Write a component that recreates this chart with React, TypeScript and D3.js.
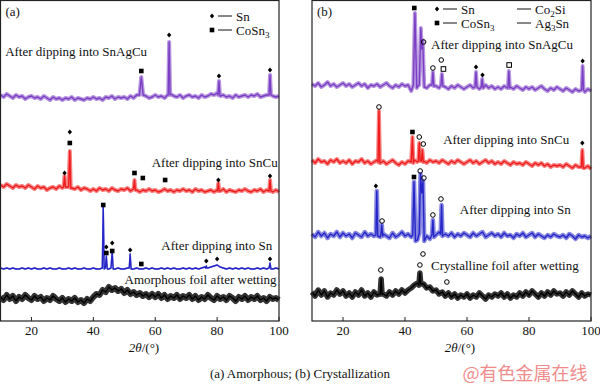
import React from "react";
import * as d3 from "d3";

// 2θ grid for the baseline readings (1° steps)
const angles = d3.range(10, 101);

type Pt = [number, number];
type Mark = [number, number, string]; // 2θ, intensity, d=diamond s=square o=circle q=open square

// ---- panel (a): amorphous foil ----
const aPurple = [
  226, 224, 227, 225, 223, 226, 224, 225, 222, 224,
  225, 223, 224, 222, 225, 223, 221, 224, 222, 223,
  221, 223, 222, 224, 221, 223, 222, 221, 223, 222,
  224, 222, 223, 221, 224, 223, 225, 222, 224, 223,
  224, 222, 225, 223, 226, 228, 224, 225, 223, 224,
  226, 224, 225, 223, 226, 227, 225, 224, 226, 223,
  225, 226, 224, 225, 223, 226, 224, 225, 227, 226,
  228, 225, 226, 224, 225, 223, 226, 224, 225, 226,
  224, 226, 225, 227, 224, 225, 226, 228, 225, 224,
  225,
];
const aPurplePeaks: Pt[][] = [
  [[54.9, 226], [55.5, 244], [56.1, 226]],
  [[64.2, 226], [64.5, 279], [64.8, 226]],
  [[80.3, 226], [80.6, 240], [80.9, 226]],
  [[96.8, 226], [97.1, 246], [97.4, 226]],
];
const aPurpleMarks: Mark[] = [
  [55.5, 250, "s"], [64.5, 286, "d"], [80.6, 245, "d"], [97.1, 251, "d"],
];

const aRed = [
  136, 134, 137, 135, 133, 136, 134, 135, 133, 136,
  134, 132, 135, 133, 134, 131, 133, 134, 132, 135,
  133, 134, 131, 133, 132, 134, 131, 133, 132, 130,
  132, 130, 133, 131, 132, 130, 133, 131, 130, 132,
  131, 133, 130, 132, 131, 129, 131, 130, 132, 130,
  131, 129, 130, 132, 130, 131, 129, 131, 130, 132,
  130, 131, 129, 132, 130, 131, 129, 130, 131, 129,
  131, 130, 132, 129, 131, 130, 129, 131, 130, 132,
  130, 129, 131, 130, 132, 129, 131, 130, 129, 131,
  129,
];
const aRedPeaks: Pt[][] = [
  [[30.4, 134], [30.7, 145], [31.0, 134]],
  [[32.0, 134], [32.4, 170], [32.7, 133]],
  [[53.0, 132], [53.3, 141], [53.6, 131]],
  [[80.1, 130], [80.4, 138], [80.7, 130]],
  [[96.8, 130], [97.1, 141], [97.4, 130]],
];
const aRedMarks: Mark[] = [
  [30.7, 148, "d"], [32.4, 178, "s"], [32.4, 189, "d"], [53.3, 148, "s"],
  [56.0, 143, "s"], [63.2, 141, "s"], [80.4, 141, "d"], [97.1, 145, "d"],
];

const aBlue = [
  53, 52, 53, 52, 53, 52, 52, 53, 52, 53,
  52, 53, 52, 52, 53, 52, 53, 52, 52, 53,
  52, 52, 53, 52, 53, 52, 52, 53, 52, 52,
  53, 52, 52, 53, 53, 52, 53, 52, 53, 52,
  52, 53, 52, 52, 53, 52, 52, 53, 52, 53,
  52, 52, 53, 52, 53, 52, 53, 52, 52, 53,
  52, 53, 52, 53, 52, 53, 54, 53, 54, 55,
  56, 54, 53, 52, 53, 52, 53, 52, 53, 52,
  53, 52, 52, 53, 52, 53, 52, 54, 52, 53,
  52,
];
const aBluePeaks: Pt[][] = [
  [[42.9, 53], [43.2, 114], [43.5, 52]],
  [[43.9, 53], [44.2, 65], [44.5, 52]],
  [[45.7, 53], [46.1, 69], [46.4, 52]],
  [[51.6, 53], [51.9, 67], [52.2, 52]],
  [[76.3, 53], [76.5, 55], [76.7, 53]],
  [[96.8, 53], [97.1, 58], [97.4, 52]],
];
const aBlueMarks: Mark[] = [
  [43.2, 116, "s"], [44.2, 74, "d"], [44.2, 68, "s"], [46.1, 78, "d"],
  [46.1, 70, "s"], [51.9, 71, "d"], [55.5, 57, "s"], [76.5, 60, "d"],
  [80.0, 62, "d"], [97.1, 62, "d"],
];

const aBlack = [
  24, 21, 26, 22, 25, 20, 24, 22, 26, 23,
  21, 25, 22, 24, 20, 23, 21, 25, 22, 20,
  23, 19, 22, 20, 23, 19, 21, 18, 22, 20,
  24, 27, 26, 31, 29, 34, 31, 33, 30, 32,
  28, 31, 27, 29, 26, 28, 25, 27, 24, 27,
  24, 27, 23, 26, 22, 25, 23, 26, 22, 25,
  23, 26, 22, 25, 21, 24, 22, 26, 23, 21,
  25, 22, 24, 21, 25, 23, 20, 24, 22, 25,
  21, 24, 22, 25, 21, 23, 20, 24, 22, 23,
  21,
];

// ---- panel (b): crystallized foil ----
const bPurple = [
  237, 235, 238, 234, 236, 239, 235, 237, 234, 236,
  238, 235, 237, 234, 236, 238, 235, 237, 233, 236,
  235, 237, 234, 236, 238, 235, 233, 236, 234, 237,
  235, 236, 230, 236, 238, 237, 235, 233, 236, 234,
  235, 233, 236, 234, 232, 235, 233, 236, 234, 232,
  234, 236, 233, 235, 232, 234, 236, 233, 235, 232,
  234, 232, 235, 233, 234, 232, 235, 233, 231, 234,
  232, 234, 231, 233, 235, 232, 230, 233, 231, 234,
  232, 230, 233, 231, 229, 232, 230, 231, 229, 232,
  230,
];
const bPurplePeaks: Pt[][] = [
  [[42.7, 236], [43.2, 308], [43.8, 233], [44.2, 235]],
  [[44.6, 236], [45.1, 293], [45.4, 272], [45.7, 281], [46.2, 234]],
  [[48.7, 236], [49.0, 249], [49.3, 235]],
  [[51.6, 236], [51.9, 247], [52.2, 235]],
  [[62.6, 234], [62.9, 249], [63.2, 234]],
  [[64.6, 234], [64.9, 242], [65.2, 233]],
  [[73.2, 233], [73.5, 250], [73.8, 233]],
  [[97.0, 231], [97.3, 255], [97.6, 231]],
];
const bPurpleMarks: Mark[] = [
  [43.0, 313, "s"], [46.0, 279, "o"], [49.0, 253, "o"], [51.7, 261, "o"],
  [52.4, 252, "q"], [62.9, 254, "d"], [65.0, 246, "d"], [73.6, 256, "q"],
  [97.3, 260, "d"],
];

const bRed = [
  161, 158, 162, 159, 160, 157, 161, 159, 162, 158,
  160, 158, 161, 157, 160, 159, 162, 158, 160, 157,
  159, 161, 158, 160, 157, 159, 161, 158, 156, 159,
  157, 160, 158, 161, 159, 162, 160, 158, 161, 159,
  160, 158, 161, 159, 157, 160, 158, 161, 159, 157,
  159, 161, 158, 160, 157, 159, 161, 158, 160, 157,
  159, 157, 160, 158, 156, 159, 157, 158, 156, 159,
  157, 155, 158, 156, 158, 155, 157, 154, 156, 155,
  156, 154, 157, 155, 153, 156, 154, 155, 153, 155,
  152,
];
const bRedPeaks: Pt[][] = [
  [[31.3, 159], [31.6, 210], [31.9, 158]],
  [[42.0, 159], [42.4, 184], [42.7, 158]],
  [[44.3, 160], [44.6, 178], [44.9, 160]],
  [[45.3, 160], [45.6, 171], [45.9, 159]],
  [[96.9, 154], [97.2, 171], [97.5, 153]],
];
const bRedMarks: Mark[] = [
  [31.6, 214, "o"], [42.4, 189, "s"], [44.6, 184, "o"], [45.9, 177, "o"],
  [97.2, 178, "d"],
];

const bBlue = [
  87, 84, 89, 85, 88, 83, 87, 85, 89, 84,
  88, 85, 87, 83, 88, 86, 84, 89, 85, 87,
  85, 88, 84, 87, 85, 83, 88, 84, 86, 89,
  85, 87, 84, 82, 86, 84, 83, 85, 82, 88,
  86, 89, 84, 87, 85, 88, 84, 87, 85, 88,
  86, 84, 88, 85, 87, 89, 84, 86, 88, 85,
  87, 84, 88, 85, 86, 83, 87, 85, 88, 84,
  86, 88, 84, 87, 85, 83, 86, 84, 87, 85,
  84, 86, 83, 87, 85, 82, 86, 84, 85, 83,
  85,
];
const bBluePeaks: Pt[][] = [
  [[30.6, 86], [30.9, 130], [31.2, 85]],
  [[32.2, 86], [32.5, 96], [32.8, 85]],
  [[42.5, 86], [42.9, 139], [43.4, 80], [44.0, 81]],
  [[44.6, 88], [45.0, 147], [45.4, 128], [45.8, 140], [46.2, 80]],
  [[48.7, 86], [49.0, 101], [49.3, 84]],
  [[51.5, 87], [51.8, 116], [52.1, 85]],
];
const bBlueMarks: Mark[] = [
  [30.6, 135, "d"], [32.6, 100, "o"], [42.9, 144, "s"], [44.9, 150, "o"],
  [46.1, 143, "o"], [49.0, 106, "o"], [51.6, 122, "o"],
];

const bBlack = [
  29, 25, 31, 26, 30, 24, 28, 26, 31, 27,
  30, 25, 28, 24, 29, 26, 31, 25, 28, 24,
  29, 26, 32, 27, 25, 29, 26, 30, 27, 31,
  28, 31, 33, 36, 38, 35, 37, 33, 34, 30,
  31, 27, 29, 25, 28, 24, 27, 23, 26, 24,
  27, 23, 26, 24, 28, 25, 22, 26, 24, 27,
  25, 28, 24, 27, 23, 26, 24, 28, 25, 29,
  26, 30, 27, 24, 28, 25, 29, 26, 30, 27,
  28, 25, 29, 26, 30, 27, 24, 28, 25, 27,
  26,
];
const bBlackPeaks: Pt[][] = [
  [[32.0, 27], [32.3, 42], [32.6, 27]],
  [[44.5, 36], [44.8, 48], [45.1, 37]],
];
const bBlackMarks: Mark[] = [
  [32.2, 51, "o"], [44.8, 56, "o"], [45.8, 67, "o"], [53.5, 39, "o"],
];

const xTicks = [20, 40, 60, 80, 100];

const W = 600;
const H = 389;
const plotTop = 0.5;
const plotBottom = 321;
const y = d3.scaleLinear().domain([0, 321]).range([plotBottom, 0]);

const serif = "'Liberation Serif', 'Times New Roman', serif";

const buildTrace = (base: number[], peaks: Pt[][]): Pt[] => {
  const spans = peaks.map((p) => [p[0][0], p[p.length - 1][0]]);
  const pts: Pt[] = angles
    .map((a, i) => [a, base[i]] as Pt)
    .filter(([a]) => !spans.some(([s, e]) => a >= s && a <= e));
  peaks.forEach((p) => pts.push(...p));
  return pts.sort((p, q) => p[0] - q[0]);
};

const Marker = ({ cx, cy, kind }: { cx: number; cy: number; kind: string }) => {
  if (kind === "d")
    return <path d={`M${cx},${cy - 2.6}L${cx + 2.2},${cy}L${cx},${cy + 2.6}L${cx - 2.2},${cy}Z`} fill="#000" />;
  if (kind === "s") return <rect x={cx - 2.3} y={cy - 2.3} width={4.6} height={4.6} fill="#000" />;
  if (kind === "o") return <circle cx={cx} cy={cy} r={2.3} fill="none" stroke="#000" strokeWidth={1} />;
  return <rect x={cx - 2.3} y={cy - 2.3} width={4.6} height={4.6} fill="none" stroke="#000" strokeWidth={1} />;
};

type Trace = { color: string; base: number[]; peaks: Pt[][]; marks: Mark[]; band: number; alpha: number };
type Label = { text: string; at: Pt; anchor: string };

const Panel = ({
  x0, x1, tag, traces, labels, xLabelX,
}: {
  x0: number; x1: number; tag: string; traces: Trace[]; labels: Label[]; xLabelX: number;
}) => {
  const x = d3.scaleLinear().domain([10, 100]).range([x0, x1]);
  const line = d3
    .line<Pt>()
    .x((d) => x(d[0]))
    .y((d) => y(d[1]));
  return (
    <g>
      {traces.map((t, i) => {
        const d = line(buildTrace(t.base, t.peaks)) || "";
        return (
          <g key={i}>
            <path d={d} fill="none" stroke={t.color} strokeWidth={t.band} strokeOpacity={t.alpha} strokeLinejoin="round" />
            <path d={d} fill="none" stroke={t.color} strokeWidth={1.4} strokeLinejoin="round" />
            {t.marks.map((m, j) => (
              <Marker key={j} cx={x(m[0])} cy={y(m[1])} kind={m[2]} />
            ))}
          </g>
        );
      })}
      {labels.map((l, i) => (
        <text key={i} x={x(l.at[0])} y={y(l.at[1])} textAnchor={l.anchor as any} fontSize={13} fontFamily={serif} fill="#111">
          {l.text}
        </text>
      ))}
      <rect x={x0} y={plotTop} width={x1 - x0} height={plotBottom - plotTop} fill="none" stroke="#222" strokeWidth={1.2} />
      {xTicks.map((t) => (
        <g key={t}>
          <line x1={x(t)} x2={x(t)} y1={plotBottom} y2={plotBottom - 4} stroke="#222" strokeWidth={1} />
          <text x={x(t)} y={plotBottom + 14} textAnchor="middle" fontSize={13} fontFamily={serif} fill="#111">
            {t}
          </text>
        </g>
      ))}
      <text x={xLabelX} y={plotBottom + 31} textAnchor="middle" fontSize={13} fontFamily={serif} fill="#111">
        <tspan fontStyle="italic">2θ</tspan>/(°)
      </text>
      <text x={x0 + 5} y={16} fontSize={13} fontFamily={serif} fill="#111">
        {tag}
      </text>
    </g>
  );
};

const LegendRow = ({ x, yy, kind, children }: { x: number; yy: number; kind: string | null; children: React.ReactNode }) => (
  <g>
    {kind && <Marker cx={x} cy={yy} kind={kind} />}
    <line x1={x + 6} x2={x + 20} y1={yy} y2={yy} stroke="#111" strokeWidth={1} />
    <text x={x + 24} y={yy + 4.5} fontSize={13} fontFamily={serif} fill="#111">
      {children}
    </text>
  </g>
);

const Sub = ({ base, sub, tail }: { base: string; sub: string; tail?: string }) => (
  <>
    {base}
    <tspan dy={3} fontSize={9}>{sub}</tspan>
    {tail && <tspan dy={-3}>{tail}</tspan>}
  </>
);

export default function App() {
  const tracesA: Trace[] = [
    { color: "#7b3fc4", base: aPurple, peaks: aPurplePeaks, marks: aPurpleMarks, band: 4, alpha: 0.55 },
    { color: "#ee1c1c", base: aRed, peaks: aRedPeaks, marks: aRedMarks, band: 4, alpha: 0.55 },
    { color: "#2626c8", base: aBlue, peaks: aBluePeaks, marks: aBlueMarks, band: 1.5, alpha: 0.5 },
    { color: "#000000", base: aBlack, peaks: [], marks: [], band: 6, alpha: 0.8 },
  ];
  const tracesB: Trace[] = [
    { color: "#7b3fc4", base: bPurple, peaks: bPurplePeaks, marks: bPurpleMarks, band: 4, alpha: 0.55 },
    { color: "#ee1c1c", base: bRed, peaks: bRedPeaks, marks: bRedMarks, band: 4, alpha: 0.55 },
    { color: "#2626c8", base: bBlue, peaks: bBluePeaks, marks: bBlueMarks, band: 4.5, alpha: 0.55 },
    { color: "#000000", base: bBlack, peaks: bBlackPeaks, marks: bBlackMarks, band: 5.5, alpha: 0.8 },
  ];
  const labelsA: Label[] = [
    { text: "After dipping into SnAgCu", at: [11.5, 265], anchor: "start" },
    { text: "After dipping into SnCu", at: [99.6, 154], anchor: "end" },
    { text: "After dipping into Sn", at: [97.8, 71], anchor: "end" },
    { text: "Amorphous foil after wetting", at: [99.2, 37], anchor: "end" },
  ];
  const labelsB: Label[] = [
    { text: "After dipping into SnAgCu", at: [48.4, 272], anchor: "start" },
    { text: "After dipping into SnCu", at: [52.3, 177], anchor: "start" },
    { text: "After dipping into Sn", at: [57.7, 107], anchor: "start" },
    { text: "Crystalline foil after wetting", at: [48.4, 51], anchor: "start" },
  ];

  return (
    <svg width={W} height={H} style={{ position: "absolute", left: 0, top: 0, background: "#fff" }}>
      <Panel x0={0.5} x1={279} tag="(a)" traces={tracesA} labels={labelsA} xLabelX={144} />
      <Panel x0={312} x1={591} tag="(b)" traces={tracesB} labels={labelsB} xLabelX={460} />

      <LegendRow x={212} yy={16} kind="d">Sn</LegendRow>
      <LegendRow x={212} yy={30} kind="s"><Sub base="CoSn" sub="3" /></LegendRow>

      <LegendRow x={437} yy={9} kind="d">Sn</LegendRow>
      <LegendRow x={437} yy={23} kind="s"><Sub base="CoSn" sub="3" /></LegendRow>
      <LegendRow x={511} yy={9} kind={null}><Sub base="Co" sub="2" tail="Si" /></LegendRow>
      <LegendRow x={511} yy={23} kind={null}><Sub base="Ag" sub="3" tail="Sn" /></LegendRow>

      <text x={300} y={378} textAnchor="middle" fontSize={13} fontFamily={serif} fill="#111">
        (a) Amorphous; (b) Crystallization
      </text>
      <text x={525} y={380} textAnchor="middle" fontSize={18} fontFamily="'Noto Sans CJK SC', sans-serif" fill="#f08c8c">
        @有色金属在线
      </text>
    </svg>
  );
}
